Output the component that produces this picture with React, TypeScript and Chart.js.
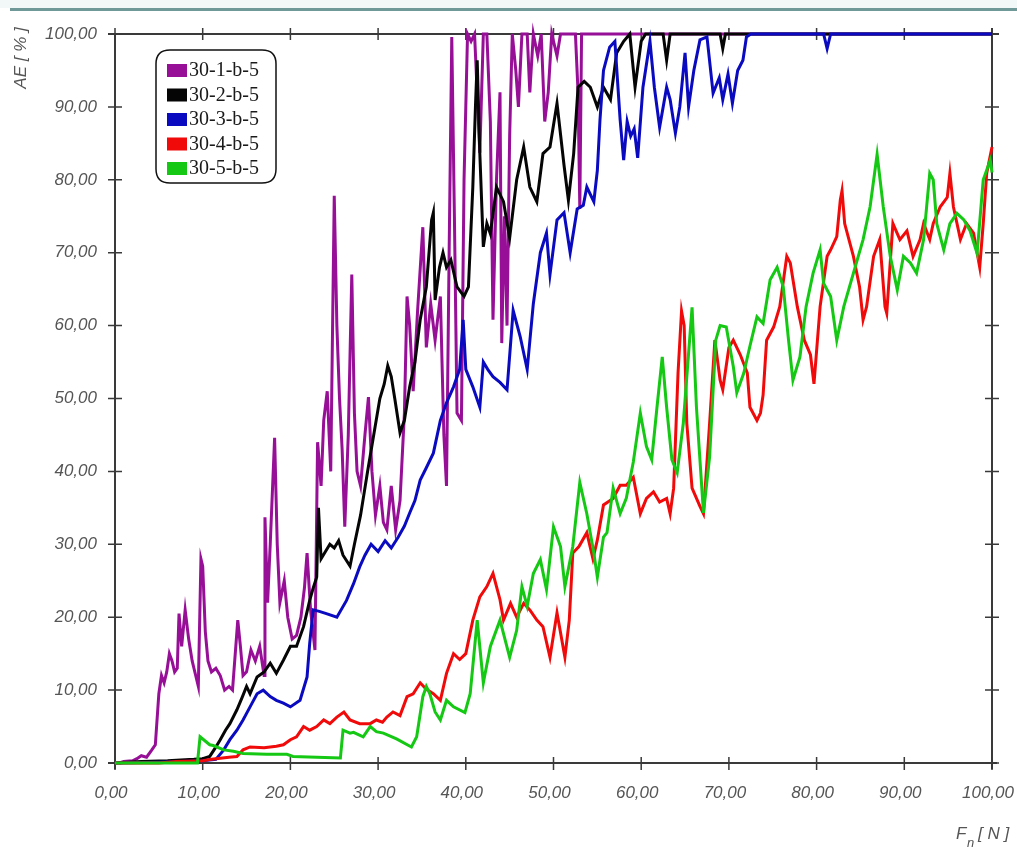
import React, { useEffect, useRef } from "react";
import { Chart, registerables } from "chart.js";

Chart.register(...registerables);

const seriesNames = ["30-1-b-5", "30-2-b-5", "30-3-b-5", "30-4-b-5", "30-5-b-5"];
const seriesColors = ["#960f96", "#050505", "#0a0ac0", "#f00a0a", "#14c814"];
const xTicks = [0, 10, 20, 30, 40, 50, 60, 70, 80, 90, 100];
const yTicks = [0, 10, 20, 30, 40, 50, 60, 70, 80, 90, 100];

const s1: [number, number][] = [
  [0.5, 0], [1, 0.2], [2, 0.3], [2.5, 0.6], [3, 1], [3.6, 0.8], [4.2, 1.8], [4.6, 2.5], [5, 9.5], [5.3, 12],
  [5.6, 11], [5.9, 12.5], [6.2, 15], [6.5, 14], [6.8, 12.5], [7.1, 13], [7.3, 20.5], [7.6, 16], [8, 21], [8.4, 17],
  [8.8, 14], [9.2, 12], [9.5, 10.5], [9.8, 28], [10, 27], [10.3, 18], [10.6, 14], [11, 12.5], [11.5, 13], [12, 12],
  [12.5, 10], [13, 10.5], [13.4, 10], [14, 19.6], [14.3, 16], [14.6, 12], [15, 12.5], [15.5, 15.5], [16, 14], [16.5, 16],
  [17, 12], [17.1, 33.7], [17.4, 22], [17.7, 30], [18.2, 44.6], [18.5, 30], [18.8, 22], [19.3, 25], [19.7, 20], [20.2, 17],
  [20.7, 17.5], [21.2, 20], [21.6, 24], [21.9, 28.8], [22.3, 21], [22.8, 15.5], [23.1, 44], [23.5, 38], [23.8, 47], [24.2, 51],
  [24.6, 40], [25, 77.8], [25.3, 60], [25.6, 50], [25.9, 43], [26.2, 32.4], [26.6, 45], [27, 67], [27.3, 48], [27.6, 40],
  [28, 38], [28.5, 45], [28.9, 50.2], [29.3, 40], [29.7, 34], [30.2, 38], [30.6, 33], [31, 32], [31.5, 38], [32, 32],
  [32.5, 36], [33, 48], [33.3, 64], [33.6, 60], [34, 51], [34.5, 62], [35.1, 73.5], [35.5, 57], [36, 63], [36.5, 58],
  [37.1, 64], [37.5, 45], [37.8, 38], [38.1, 70], [38.4, 99.6], [38.7, 75], [39, 48], [39.5, 47], [39.8, 80], [40.2, 100],
  [40.6, 99], [41, 100], [41.6, 83.7], [42, 100], [42.4, 100], [42.8, 88], [43.1, 60.8], [43.5, 80], [43.9, 92], [44.1, 57.6],
  [44.4, 75], [44.7, 60], [45, 86], [45.3, 100], [45.7, 95], [46, 90], [46.4, 100], [47, 100], [47.3, 92], [47.7, 100],
  [48.2, 97], [48.6, 100], [49, 88], [49.4, 92], [49.8, 100], [50.4, 97], [50.8, 100], [52.5, 100], [52.8, 92], [53, 76],
  [53.2, 100], [55, 100], [100, 100],
];

const s2: [number, number][] = [
  [0, 0], [3, 0.2], [6, 0.3], [9, 0.5], [10, 0.6], [10.8, 0.9], [11.4, 2], [12, 3.2], [12.6, 4.5], [13.1, 5.4],
  [13.9, 7.3], [14.5, 9], [15, 10.5], [15.4, 9.5], [16.2, 11.8], [17, 12.5], [17.7, 13.7], [18.4, 12.3], [19.2, 14.1], [20, 16],
  [20.7, 16], [21.5, 18.7], [22.2, 22.3], [22.6, 24], [23, 25.5], [23.2, 35], [23.5, 28], [24, 29], [24.5, 30], [25, 29.5],
  [25.5, 30.5], [26, 28.5], [26.8, 27], [27.3, 30], [28, 34], [28.8, 40], [29.5, 45], [30.2, 50], [30.7, 52], [31.1, 54.5],
  [31.5, 53], [31.9, 50], [32.5, 45.3], [33, 47], [33.6, 51.6], [34.2, 55], [34.8, 60.8], [35.5, 65.3], [36.1, 74.5], [36.3, 75.5],
  [36.5, 63.5], [37, 68], [37.4, 70], [37.8, 68], [38.3, 69], [39, 65.3], [39.8, 64], [40.3, 65.3], [40.8, 79], [41.1, 90],
  [41.3, 96.4], [41.6, 83.6], [42, 70.8], [42.4, 74], [42.8, 72.6], [43.5, 79], [44.3, 77], [45, 72], [45.8, 80], [46.6, 84.5],
  [47.3, 79], [48.1, 77], [48.8, 83.6], [49.6, 84.5], [50.4, 90.5], [51.2, 82], [51.7, 77.2], [52.3, 83.6], [52.8, 92.7], [53.5, 93.5],
  [54.2, 92.7], [55, 90], [55.7, 92.7], [56.5, 91], [57.2, 97.4], [58, 99], [58.7, 100], [59.3, 92.7], [60, 99], [60.5, 100],
  [62.5, 100], [62.9, 96.4], [63.3, 100], [69, 100], [69.3, 98], [69.6, 100], [100, 100],
];

const s3: [number, number][] = [
  [0, 0], [5, 0.1], [10, 0.3], [11.5, 0.5], [12.4, 1.8], [13.1, 3.2], [13.9, 4.5], [14.6, 5.9], [15.4, 7.7], [16.2, 9.5],
  [16.9, 10], [17.7, 9.1], [18.4, 8.6], [19.2, 8.2], [20, 7.7], [21.1, 8.6], [21.9, 11.8], [22.2, 16.4], [22.6, 21], [23.3, 20.8],
  [24.1, 20.5], [25.3, 20], [26.4, 22.3], [27.2, 24.6], [27.9, 26.9], [28.5, 28.5], [29.2, 30], [30, 29], [30.8, 30.5], [31.5, 29.5],
  [32.3, 31], [33, 32.5], [33.6, 34.3], [34.2, 36], [34.8, 38.8], [35.5, 40.5], [36.3, 42.5], [37.1, 47], [37.8, 49.4], [38.6, 51.6],
  [39.3, 54], [39.7, 60.8], [40, 54], [40.8, 51.6], [41.6, 48.8], [42, 55], [42.5, 54], [43.1, 53], [43.9, 52.2], [44.7, 51.2],
  [45.4, 62.1], [46.2, 58.5], [47, 54], [47.7, 63], [48.5, 70], [49.2, 72.7], [49.6, 67], [50.4, 74.5], [51.2, 75.5], [51.9, 70],
  [52.7, 76], [53.4, 76.5], [53.8, 79], [54.6, 77], [55, 81.3], [55.3, 88.2], [55.7, 95], [56.4, 98.2], [57, 99], [57.6, 88.2],
  [58, 82.7], [58.4, 88], [58.8, 86], [59.2, 87], [59.6, 83], [60.2, 92.7], [61, 99], [61.5, 92.7], [62.1, 87.2], [62.9, 92.7],
  [63.3, 91], [63.9, 86.4], [64.4, 90], [65, 97.4], [65.4, 90], [66, 95], [66.7, 99.2], [67.5, 99.6], [68.2, 91.9], [68.9, 94],
  [69.3, 91], [69.9, 94.5], [70.4, 90.5], [71, 95], [71.6, 96.4], [72, 99.6], [72.5, 100], [80.8, 100], [81.2, 98], [81.6, 100],
  [100, 100],
];

const s4: [number, number][] = [
  [0, 0], [5, 0], [7, 0.2], [10, 0.3], [11, 0.5], [13, 0.8], [13.9, 0.9], [14.6, 1.8], [15.4, 2.2], [17, 2.1],
  [18.4, 2.3], [19.2, 2.5], [20, 3.2], [20.7, 3.6], [21.5, 5], [22.2, 4.5], [23, 5], [23.8, 5.9], [24.5, 5.4], [25.3, 6.3],
  [26.1, 7], [26.8, 5.9], [27.9, 5.4], [29.1, 5.4], [29.8, 5.9], [30.5, 5.6], [31, 6.3], [31.7, 7], [32.5, 6.5], [33.3, 9.1],
  [34, 9.5], [34.8, 11], [35.5, 10.1], [36.3, 9.5], [37.1, 8.6], [37.8, 12.3], [38.6, 15], [39.3, 14.2], [40, 15], [40.8, 19.6],
  [41.6, 22.8], [42.4, 24.2], [43.1, 26], [43.9, 22.4], [44.3, 19.6], [45.1, 21.9], [45.8, 20], [46.6, 21.9], [47.3, 21], [48.1, 19.6],
  [48.8, 18.7], [49.6, 14.5], [50.4, 20.6], [51.3, 14.5], [51.8, 19.6], [52.2, 28.8], [52.9, 29.7], [53.8, 31.6], [54.5, 28], [55, 30.6],
  [55.7, 35.4], [56.8, 36.3], [57.6, 38.1], [58.3, 38.1], [59.1, 39.2], [59.9, 34.2], [60.6, 36.3], [61.4, 37.2], [62.1, 35.8], [62.9, 36.3],
  [63.3, 34.2], [63.7, 37.7], [64.2, 53.5], [64.6, 62], [64.9, 60], [65.2, 46.6], [65.8, 37.7], [66.7, 35.2], [67.1, 34.2], [67.8, 46.6],
  [68.4, 58], [69, 52.5], [69.3, 51.2], [70, 57], [70.5, 58], [71.3, 56], [72.1, 53.5], [72.4, 48.8], [73.2, 47], [73.6, 48],
  [73.9, 50.5], [74.3, 58], [75.1, 59.8], [75.8, 62.6], [76.6, 69.5], [77, 68.6], [77.8, 62.6], [78.6, 58], [79.3, 56], [79.7, 52],
  [80.4, 62.6], [81.2, 69.5], [81.6, 70.4], [82.3, 72.2], [82.7, 77.2], [82.9, 78.5], [83.2, 74], [84.2, 69.5], [84.9, 65.3], [85.3, 60.8],
  [85.7, 62.6], [86.5, 69.5], [87.2, 71.8], [87.8, 62.6], [88, 61.7], [88.7, 74], [89.5, 71.8], [90.3, 73], [91, 69.5], [91.8, 71.8],
  [92.2, 74], [92.9, 71.8], [93.3, 74], [94.1, 76.3], [94.9, 77.6], [95.2, 80.9], [95.6, 76.3], [96.4, 71.8], [97.1, 74], [97.9, 72.7],
  [98.6, 68], [99, 74], [99.4, 80.9], [100, 84.5],
];

const s5: [number, number][] = [
  [0, 0], [9.4, 0], [9.7, 3.6], [10.8, 2.5], [11.2, 2.4], [12.4, 1.8], [13.5, 1.6], [14.6, 1.3], [17.3, 1.2], [19.6, 1.2],
  [20.3, 0.9], [23, 0.8], [25.7, 0.7], [26, 4.5], [26.8, 4.1], [27.2, 4.2], [28.3, 3.6], [29.1, 5], [29.8, 4.3], [30.6, 4.1],
  [32.1, 3.3], [33.8, 2.2], [34.4, 3.6], [35.1, 9.1], [35.5, 10.5], [35.9, 9.5], [36.5, 7], [37.1, 5.9], [37.8, 8.6], [38.6, 7.7],
  [39.9, 6.9], [40.5, 9.5], [41.3, 19.6], [42, 11], [42.8, 16], [43.9, 19.6], [45, 14.5], [45.8, 18.2], [46.4, 24.2], [47, 21.5],
  [47.7, 26], [48.5, 27.9], [49.2, 23.8], [50, 32.4], [50.8, 29.7], [51.3, 24.2], [52.2, 29.7], [53, 38.5], [53.8, 34.2], [54.6, 28.8],
  [55, 25.5], [55.7, 31], [56.1, 31.6], [56.8, 37.7], [57.6, 34.2], [58.3, 36.3], [59.1, 41.3], [59.9, 48], [60.6, 43.4], [61.2, 41.6],
  [61.8, 48.8], [62.4, 55.7], [62.9, 48.8], [63.5, 41.6], [64.1, 39.8], [64.8, 46.6], [65.8, 62.5], [66.3, 48.8], [67.1, 34.3], [67.8, 42],
  [68.5, 58], [69, 60], [69.7, 59.8], [70.5, 54.4], [70.9, 50.8], [71.7, 53.5], [72.4, 57.2], [73.2, 61.2], [73.9, 60.3], [74.7, 66.3],
  [75.5, 68], [76.2, 65.3], [76.8, 58], [77.3, 52.5], [78.1, 55.7], [78.8, 62.6], [79.6, 67.2], [80.4, 70.4], [80.8, 65.8], [81.6, 64],
  [82.3, 58], [83.1, 62.6], [84.2, 67.2], [85.3, 71.8], [86.1, 76.3], [86.9, 83.5], [87.6, 76.3], [88.4, 69.5], [89.2, 64.9], [89.9, 69.5],
  [90.7, 68.6], [91.4, 67.2], [92.2, 71.8], [92.9, 80.9], [93.3, 80], [93.7, 74], [94.5, 70.4], [95.2, 74], [96, 75.4], [96.8, 74.5],
  [97.5, 73], [98.3, 69.9], [99, 80], [99.8, 82.7], [100, 81],
];

const allSeries = [s1, s2, s3, s4, s5];
const drawOrder = [5, 4, 3, 2, 1];

const fmt = (v: number) => v.toFixed(2).replace(".", ",");
const AXIS_COLOR = "#3a3a3a";
const LABEL_COLOR = "#555555";
const LABEL_FONT = '"Liberation Sans", Arial, sans-serif';

const framePlugin = {
  id: "frame",
  beforeDraw(chart: any) {
    const ctx = chart.ctx;
    ctx.save();
    ctx.fillStyle = "#ffffff";
    ctx.fillRect(0, 0, chart.width, chart.height);
    ctx.fillStyle = "#f2f7f7";
    ctx.fillRect(0, 0, chart.width, 8);
    ctx.fillStyle = "#6f9898";
    ctx.fillRect(10, 8, chart.width - 10, 3);
    ctx.restore();
  },
  beforeDatasetsDraw(chart: any) {
    const ctx = chart.ctx;
    const { left, right, top, bottom } = chart.chartArea;
    const xs = chart.scales.x;
    const ys = chart.scales.y;
    ctx.save();
    ctx.strokeStyle = AXIS_COLOR;
    ctx.lineWidth = 2;
    ctx.beginPath();
    ctx.moveTo(left - 7, top);
    ctx.lineTo(right + 7, top);
    ctx.moveTo(left - 7, bottom);
    ctx.lineTo(right + 5, bottom);
    ctx.moveTo(left, top);
    ctx.lineTo(left, bottom + 6);
    ctx.moveTo(right, top - 6);
    ctx.lineTo(right, bottom + 6);
    ctx.stroke();
    ctx.lineWidth = 1.5;
    ctx.beginPath();
    for (const v of yTicks) {
      const py = ys.getPixelForValue(v);
      ctx.moveTo(left - 7, py);
      ctx.lineTo(left + 7, py);
      ctx.moveTo(right - 7, py);
      ctx.lineTo(right + 7, py);
    }
    for (const v of xTicks) {
      const px = xs.getPixelForValue(v);
      ctx.moveTo(px, bottom - 6);
      ctx.lineTo(px, bottom + 7);
      ctx.moveTo(px, top - 6);
      ctx.lineTo(px, top + 6);
    }
    ctx.stroke();
    ctx.restore();
  },
  afterDraw(chart: any) {
    const ctx = chart.ctx;
    ctx.save();
    // axis titles
    ctx.fillStyle = LABEL_COLOR;
    ctx.font = `italic 17px ${LABEL_FONT}`;
    ctx.textBaseline = "middle";
    ctx.textAlign = "center";
    ctx.save();
    ctx.translate(21, 58);
    ctx.rotate(-Math.PI / 2);
    ctx.fillText("AE [ % ]", 0, 0);
    ctx.restore();
    ctx.textAlign = "left";
    ctx.textBaseline = "alphabetic";
    ctx.font = `italic 17px ${LABEL_FONT}`;
    ctx.fillText("F", 956, 839);
    ctx.font = `italic 13px ${LABEL_FONT}`;
    ctx.fillText("n", 967, 847);
    ctx.font = `italic 17px ${LABEL_FONT}`;
    ctx.fillText("[ N ]", 978, 839);

    // legend
    const bx = 156, by = 50, bw = 120, bh = 133, r = 14;
    ctx.fillStyle = "#ffffff";
    ctx.strokeStyle = "#111111";
    ctx.lineWidth = 1.5;
    ctx.beginPath();
    ctx.moveTo(bx + r, by);
    ctx.lineTo(bx + bw - r, by);
    ctx.quadraticCurveTo(bx + bw, by, bx + bw, by + r);
    ctx.lineTo(bx + bw, by + bh - r);
    ctx.quadraticCurveTo(bx + bw, by + bh, bx + bw - r, by + bh);
    ctx.lineTo(bx + r, by + bh);
    ctx.quadraticCurveTo(bx, by + bh, bx, by + bh - r);
    ctx.lineTo(bx, by + r);
    ctx.quadraticCurveTo(bx, by, bx + r, by);
    ctx.closePath();
    ctx.fill();
    ctx.stroke();
    ctx.font = '20px "Liberation Serif", "Times New Roman", serif';
    ctx.textBaseline = "middle";
    seriesNames.forEach((name, i) => {
      const cy = 70 + i * 24.5;
      ctx.fillStyle = seriesColors[i];
      ctx.fillRect(167, cy - 6, 20, 13);
      ctx.fillStyle = "#1a1a1a";
      ctx.fillText(name, 189, cy + 1);
    });
    ctx.restore();
  },
};

export default function App() {
  const ref = useRef<HTMLCanvasElement | null>(null);
  useEffect(() => {
    if (!ref.current) return;
    const chart = new Chart(ref.current, {
      type: "line",
      data: {
        datasets: allSeries.map((pts, i) => ({
          label: seriesNames[i],
          data: pts.map(([x, y]) => ({ x, y })),
          borderColor: seriesColors[i],
          backgroundColor: seriesColors[i],
          borderWidth: 3,
          pointRadius: 0,
          tension: 0,
          fill: false,
          clip: false as any,
          order: drawOrder[i],
        })),
      },
      options: {
        responsive: false,
        animation: false,
        devicePixelRatio: 1,
        layout: { padding: { top: 34, right: 25, left: 0, bottom: 0 } },
        plugins: { legend: { display: false }, tooltip: { enabled: false } },
        scales: {
          x: {
            type: "linear",
            min: 0,
            max: 100,
            afterFit: (s: any) => { s.height = 84; s.paddingLeft = 0; s.paddingRight = 0; },
            grid: { display: false, drawTicks: false },
            border: { display: false },
            ticks: {
              stepSize: 10,
              autoSkip: false,
              maxRotation: 0,
              padding: 20,
              labelOffset: -4,
              color: LABEL_COLOR,
              font: { family: LABEL_FONT, size: 17, style: "italic" },
              callback: (v: any) => fmt(Number(v)),
            },
          },
          y: {
            type: "linear",
            min: 0,
            max: 100,
            afterFit: (s: any) => { s.width = 115; s.paddingTop = 0; s.paddingBottom = 0; },
            grid: { display: false, drawTicks: false },
            border: { display: false },
            ticks: {
              stepSize: 10,
              padding: 18,
              color: LABEL_COLOR,
              font: { family: LABEL_FONT, size: 17, style: "italic" },
              callback: (v: any) => fmt(Number(v)),
            },
          },
        },
      },
      plugins: [framePlugin],
    });
    return () => chart.destroy();
  }, []);
  return (
    <div style={{ position: "absolute", left: 0, top: 0, width: 1017, height: 847 }}>
      <canvas ref={ref} width={1017} height={847} style={{ width: 1017, height: 847, display: "block" }} />
    </div>
  );
}
